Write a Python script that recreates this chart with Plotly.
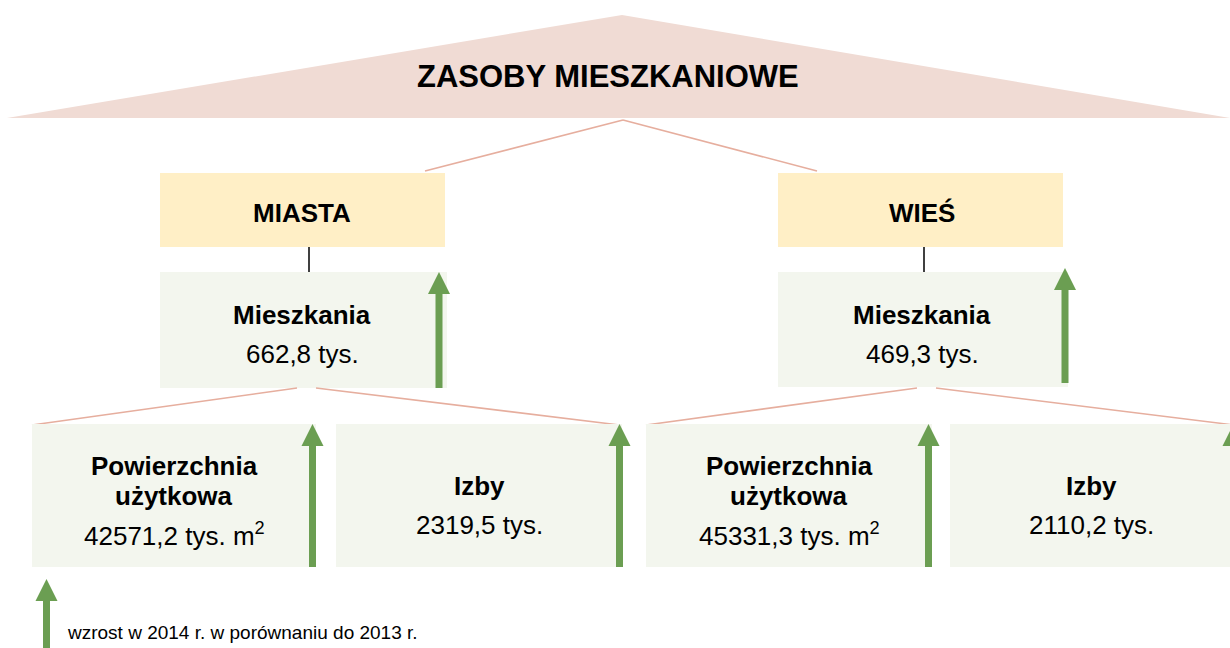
import plotly.graph_objects as go

# ---------------- data ----------------
title = "ZASOBY MIESZKANIOWE"
areas = ["MIASTA", "WIEŚ"]
dwellings_label = "Mieszkania"
dwellings = [662.8, 469.3]          # tys.
floor_label = ["Powierzchnia", "użytkowa"]
floor_area = [42571.2, 45331.3]     # tys. m2
rooms_label = "Izby"
rooms = [2319.5, 2110.2]            # tys.
legend_text = "wzrost w 2014 r. w porównaniu do 2013 r."


def fmt(v):
    return f"{v:.1f}".replace(".", ",")


# ---------------- style ----------------
W, H = 1230, 648
FONT = "Liberation Sans, Arial, sans-serif"
C_TRI = "#F0DBD4"
C_LINE = "#E6AE9E"
C_YEL = "#FFEFC6"
C_GRN = "#F3F6EE"
C_ARR = "#6B9E52"

fig = go.Figure()
shapes = []
ann = []


def rect(x0, y0, x1, y1, color):
    shapes.append(dict(type="rect", xref="x", yref="y", x0=x0, y0=y0, x1=x1, y1=y1,
                       fillcolor=color, line=dict(width=0), layer="below"))


def seg(x0, y0, x1, y1, color, w=1.6):
    shapes.append(dict(type="line", xref="x", yref="y", x0=x0, y0=y0, x1=x1, y1=y1,
                       line=dict(color=color, width=w), layer="below"))


def arrow(cx, top, bottom, shaft=7, head=22, hh=22):
    s, h = shaft / 2, head / 2
    base = top + hh
    p = (f"M {cx - s},{bottom} L {cx - s},{base} L {cx - h},{base} L {cx},{top} "
         f"L {cx + h},{base} L {cx + s},{base} L {cx + s},{bottom} Z")
    shapes.append(dict(type="path", xref="x", yref="y", path=p,
                       fillcolor=C_ARR, line=dict(width=0), layer="above"))


def text(x, y, t, size, bold=False, xanchor="center"):
    ann.append(dict(x=x, y=y, xref="x", yref="y", text=f"<b>{t}</b>" if bold else t,
                    showarrow=False, xanchor=xanchor, yanchor="middle",
                    font=dict(family=FONT, size=size, color="#000000")))


# top triangle
shapes.append(dict(type="path", xref="x", yref="y",
                   path="M 7,118 L 622,15 L 1230,118 Z",
                   fillcolor=C_TRI, line=dict(width=0), layer="below"))
text(608, 76, title, 31, bold=True)

# connectors from top
seg(623, 120, 425, 171, C_LINE)
seg(623, 120, 817, 171, C_LINE)

# group geometry
cat_x0 = [160, 778]
cat_x1 = [445, 1063]
cat_tx = [302, 922]
vline_x = [309, 924]
mid_x1 = [447, 1068]
mid_arrow = [(439, 272, 388), (1065, 268, 383)]
split_x = [(297, 316), (917, 936)]
bot_x0 = [(32, 336), (646, 950)]
bot_x1 = [(316, 622), (932, 1240)]
bot_arrow_x = [(312.5, 619.5), (928.5, 1233.5)]

for i, area in enumerate(areas):
    # category box
    rect(cat_x0[i], 173, cat_x1[i], 247, C_YEL)
    text(cat_tx[i], 213, area, 26, bold=True)
    seg(vline_x[i], 247, vline_x[i], 272, "#000000", 1.5)

    # dwellings box
    rect(cat_x0[i], 272, mid_x1[i], 388 if i == 0 else 387, C_GRN)
    text(cat_tx[i], 315, dwellings_label, 26, bold=True)
    text(cat_tx[i], 354, f"{fmt(dwellings[i])} tys.", 26)
    ax, at, ab = mid_arrow[i]
    arrow(ax, at, ab)

    # split lines
    lx, rx = split_x[i]
    seg(lx, 388, bot_x0[i][0], 425, C_LINE)
    seg(rx, 388, bot_arrow_x[i][1], 425, C_LINE)

    # bottom boxes
    for j in range(2):
        rect(bot_x0[i][j], 424, bot_x1[i][j], 567, C_GRN)
        arrow(bot_arrow_x[i][j], 424, 567)
    cx0 = (bot_x0[i][0] + bot_x1[i][0]) / 2
    text(cx0, 466, floor_label[0], 26, bold=True)
    text(cx0, 496, floor_label[1], 26, bold=True)
    text(cx0, 534, f"{fmt(floor_area[i])} tys. m<sup>2</sup>", 26)
    cx1 = (bot_x0[i][1] + min(bot_x1[i][1], 1230)) / 2 if i == 0 else 1091
    text(cx1, 486, rooms_label, 26, bold=True)
    text(cx1, 525, f"{fmt(rooms[i])} tys.", 26)

# legend
arrow(46.5, 579, 652)
text(65, 632, legend_text, 19, xanchor="left")

fig.update_layout(
    width=W, height=H,
    margin=dict(l=0, r=0, t=0, b=0),
    paper_bgcolor="white", plot_bgcolor="white",
    xaxis=dict(range=[0, W], visible=False, fixedrange=True),
    yaxis=dict(range=[H, 0], visible=False, fixedrange=True),
    shapes=shapes, annotations=ann, showlegend=False,
)

fig.write_html(
    "out.html",
    config={"displayModeBar": False},
    post_script="document.body.style.margin='0';document.body.style.overflow='hidden';",
)
